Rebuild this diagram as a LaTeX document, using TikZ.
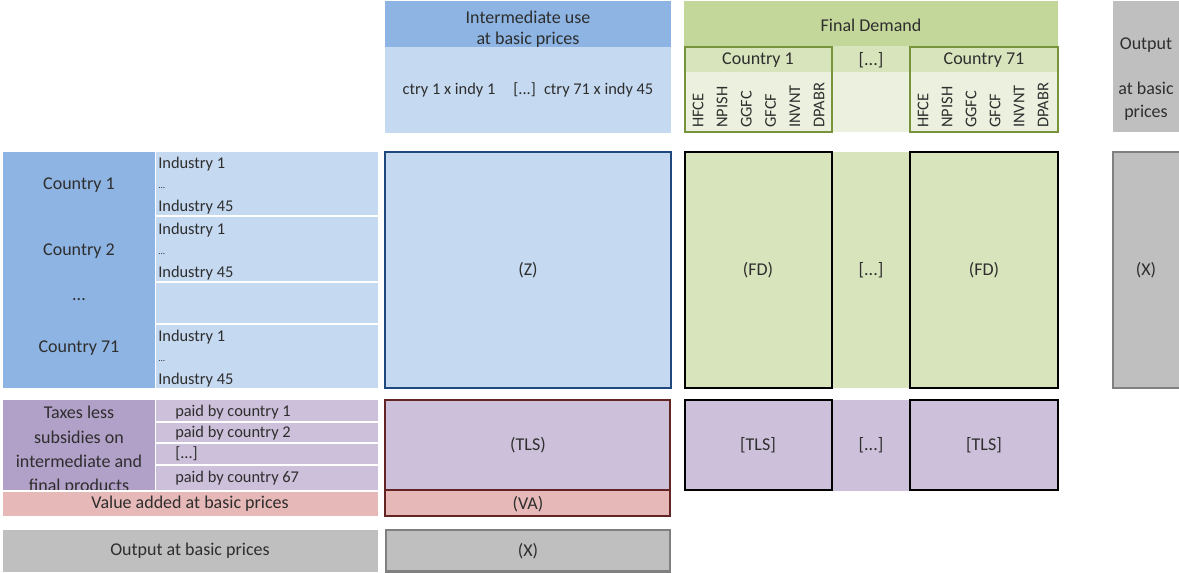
\documentclass[tikz,border=0pt]{standalone}
\usepackage{fontspec}
\setmainfont{Carlito}
\definecolor{blueD}{HTML}{8DB4E2}
\definecolor{blueL}{HTML}{C5D9F1}
\definecolor{navy}{HTML}{1F497D}
\definecolor{greenD}{HTML}{C4D79B}
\definecolor{greenM}{HTML}{D8E4BC}
\definecolor{greenL}{HTML}{EBF1DE}
\definecolor{olive}{HTML}{77933C}
\definecolor{purD}{HTML}{B1A0C7}
\definecolor{purL}{HTML}{CCC0DA}
\definecolor{rose}{HTML}{E6B8B7}
\definecolor{maroon}{HTML}{632523}
\definecolor{greyF}{HTML}{BFBFBF}
\definecolor{greyD}{HTML}{808080}
\definecolor{txt}{HTML}{2E2E2E}
\begin{document}
\begin{tikzpicture}[x=0.75pt,y=-0.75pt,
  lbl/.style={inner sep=0pt,text=txt,font=\fontsize{13.5}{16}\selectfont},
  sml/.style={inner sep=0pt,text=txt,font=\fontsize{12.3}{14}\selectfont},
  rot/.style={sml,rotate=90,anchor=west},
  frame/.style={line width=1.5pt}]
\useasboundingbox (0,0) rectangle (1179,573);

% ---- column headers: intermediate use
\fill[blueD] (385,1) rectangle (671,47);
\fill[blueL] (385,47) rectangle (671,133);
\node[lbl] (iu1) at (528,17) {Intermediate use};
\node[lbl] (iu2) at (528,40) {at basic prices};
\node[sml] (iucols) at (528,90) {ctry 1 x indy 1\hspace{1.1em}[...]\hspace{0.5em}ctry 71 x indy 45};

% ---- column headers: final demand
\fill[greenD] (684,1) rectangle (1058,46);
\fill[greenM] (684,46) rectangle (1058,72);
\fill[greenL] (684,72) rectangle (1058,132);
\draw[frame,olive] (685,47) rectangle (832,132);
\draw[frame,olive] (910,47) rectangle (1058,132);
\node[lbl] (fd) at (871,25) {Final Demand};
\node[lbl] (fdc1) at (758,60) {Country 1};
\node[lbl] (fddots) at (871,60) {[...]};
\node[lbl] (fdc71) at (984,60) {Country 71};
\foreach \t [count=\i from 0] in {HFCE,NPISH,GGFC,GFCF,INVNT,DPABR}{
  \node[rot] (a\i) at (698+24.2*\i,128) {\t};
  \node[rot] (b\i) at (923+24*\i,128) {\t};
}

% ---- column header: output
\fill[greyF] (1113,1) rectangle (1185,132);
\node[lbl] (out1) at (1146,45) {Output};
\node[lbl] (out2) at (1146,88) {at basic};
\node[lbl] (out3) at (1146,113) {prices};

% ---- row headers: countries and industries
\fill[blueD] (3,152) rectangle (155,388);
\node[lbl] (c1) at (79,185) {Country 1};
\node[lbl] (c2) at (79,251) {Country 2};
\node[lbl] (cdots) at (79,300) {...};
\node[lbl] (c71) at (79,348) {Country 71};
\fill[blueL] (156,152) rectangle (378,215);
\fill[blueL] (156,217) rectangle (378,281);
\fill[blueL] (156,283) rectangle (378,323);
\fill[blueL] (156,325) rectangle (378,388);
\foreach \y/\n in {164/p,230/q,337/r}{
  \node[sml,anchor=west] (\n1) at (158,\y) {Industry 1};
  \node[sml,anchor=west,font=\fontsize{7}{8}\selectfont] (\n2) at (158,\y+24) {...};
  \node[sml,anchor=west] (\n3) at (158,\y+43) {Industry 45};
}

% ---- intermediate block
\filldraw[fill=blueL,draw=navy,frame] (385,152) rectangle (671,388);
\node[lbl] (Z) at (528,270) {(Z)};

% ---- final demand blocks
\fill[greenM] (684,152) rectangle (1058,388);
\draw[frame,black] (685,152) rectangle (832,388);
\draw[frame,black] (910,152) rectangle (1058,388);
\node[lbl] (fd1) at (758,270) {(FD)};
\node[lbl] (fdm) at (871,270) {[...]};
\node[lbl] (fd2) at (984,270) {(FD)};

% ---- output column
\filldraw[fill=greyF,draw=greyD,line width=2.2pt] (1113,152) rectangle (1195,388);
\node[lbl] (X1) at (1146,270) {(X)};

% ---- taxes less subsidies rows
\fill[purD] (3,400) rectangle (155,490);
\begin{scope}
  \clip (3,400) rectangle (155,490);
  \node[lbl,align=center,font=\fontsize{13.5}{18.3}\selectfont] (tls) at (79,450.5)
    {Taxes less\\subsidies on\\intermediate and\\final products};
\end{scope}
\fill[purL] (156,400) rectangle (378,421);
\fill[purL] (156,423) rectangle (378,442);
\fill[purL] (156,444) rectangle (378,464);
\fill[purL] (156,466) rectangle (378,490);
\node[sml,anchor=west] (pb1) at (175,412) {paid by country 1};
\node[sml,anchor=west] (pb2) at (175,433) {paid by country 2};
\node[sml,anchor=west] (pb3) at (175,454) {[...]};
\node[sml,anchor=west] (pb4) at (175,478) {paid by country 67};

\filldraw[fill=purL,draw=maroon,frame] (385,400) rectangle (670,490);
\node[lbl] (TLS) at (528,445) {(TLS)};
\filldraw[fill=rose,draw=maroon,frame] (385,490) rectangle (670,516);
\node[lbl] (VA) at (528,504) {(VA)};

\fill[purL] (684,400) rectangle (1058,491);
\draw[frame,black] (685,400) rectangle (832,490);
\draw[frame,black] (910,400) rectangle (1058,490);
\node[lbl] (tls1) at (758,445) {[TLS]};
\node[lbl] (tlsm) at (871,445) {[...]};
\node[lbl] (tls2) at (984,445) {[TLS]};

% ---- value added and output rows
\fill[rose] (3,492) rectangle (378,516);
\node[lbl] (va) at (190,504) {Value added at basic prices};
\fill[greyF] (3,530) rectangle (378,572);
\node[lbl] (xo) at (190,551) {Output at basic prices};
\filldraw[fill=greyF,draw=greyD,line width=2.2pt] (386,530) rectangle (670,571.5);
\node[lbl] (X2) at (528,551) {(X)};
\end{tikzpicture}
\end{document}
